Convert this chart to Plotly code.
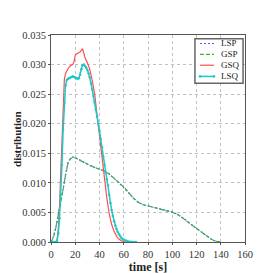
import plotly.graph_objects as go

# LSP / GSP (nearly identical)
t_sp = [0, 2, 4, 6, 8, 10, 12, 14, 16, 18, 20, 24, 28, 32, 36, 40, 44, 48, 52, 56, 60, 64, 68, 72, 76, 80, 84, 88, 92, 96, 100, 104, 108, 112, 116, 120, 124, 128, 132, 136, 140]
lsp = [0, 0.0009, 0.0025, 0.0045, 0.0066, 0.0090, 0.0114, 0.0134, 0.0141, 0.0144, 0.0143, 0.0138, 0.0133, 0.0129, 0.0126, 0.0123, 0.0120, 0.0115, 0.0108, 0.0100, 0.0092, 0.0083, 0.0074, 0.0067, 0.0063, 0.0061, 0.0059, 0.0057, 0.0055, 0.0053, 0.0051, 0.0047, 0.0042, 0.0036, 0.0029, 0.0023, 0.0017, 0.0010, 0.0005, 0.0001, 0]
gsp = [0, 0.0008, 0.0024, 0.0044, 0.0065, 0.0089, 0.0113, 0.0133, 0.0141, 0.0143, 0.0142, 0.0138, 0.0133, 0.0129, 0.0126, 0.0123, 0.0120, 0.0115, 0.0108, 0.0100, 0.0093, 0.0084, 0.0074, 0.0067, 0.0063, 0.0061, 0.0059, 0.0057, 0.0055, 0.0053, 0.0050, 0.0047, 0.0042, 0.0035, 0.0029, 0.0023, 0.0017, 0.0011, 0.0005, 0.0001, 0]

# GSQ
t_gsq = [0, 4, 5, 6, 7, 8, 9, 10, 11, 12, 14, 16, 18, 19, 20, 22, 24, 26, 27, 28, 30, 32, 34, 36, 38, 40, 41, 42, 44, 46, 48, 50, 52, 54, 56, 58, 60, 62, 70]
gsq = [0, 0, 0.0003, 0.002, 0.006, 0.012, 0.019, 0.025, 0.0275, 0.0285, 0.0293, 0.0298, 0.0300, 0.0305, 0.0316, 0.0319, 0.0321, 0.0327, 0.0320, 0.0312, 0.0303, 0.0292, 0.0273, 0.0250, 0.0215, 0.0180, 0.0160, 0.0138, 0.0107, 0.0075, 0.0048, 0.0030, 0.0018, 0.0010, 0.0005, 0.0002, 0.00007, 0, 0]

# LSQ
t_lsq = list(range(0, 61)) + [62, 64, 66, 68, 70]
lsq = [0, 0, 0, 0, 0, 0.0002, 0.0015, 0.004, 0.008, 0.013, 0.019, 0.0235, 0.0265, 0.0274, 0.0276,
       0.0277, 0.0278, 0.0279, 0.0280, 0.0279, 0.0278, 0.0277, 0.0276, 0.0277, 0.0283, 0.0292, 0.0299,
       0.0300, 0.0298, 0.0295, 0.0291, 0.0285, 0.0278, 0.0268, 0.0258, 0.0247, 0.0236, 0.0224, 0.0212,
       0.0200, 0.0188, 0.0174, 0.0160, 0.0145, 0.0130, 0.0117, 0.0106, 0.0096, 0.0080, 0.0066, 0.0054,
       0.0044, 0.0035, 0.0028, 0.0022, 0.0017, 0.0013, 0.0010, 0.0007, 0.0005, 0.0004,
       0.0002, 0.0001, 0.00005, 0, 0]

xticks = [0, 20, 40, 60, 80, 100, 120, 140, 160]
yticks = [0, 0.005, 0.010, 0.015, 0.020, 0.025, 0.030, 0.035]

names = ["LSP", "GSP", "GSQ", "LSQ"]
colors = ["#5a5aff", "#3cb43c", "#ff4d4d", "#1fc8c8"]
dashes = ["2px,2px", "4px,2px", "solid", "solid"]
widths = [1.2, 1.2, 1.2, 1.5]

fig = go.Figure()
series = [(t_sp, lsp), (t_sp, gsp), (t_gsq, gsq), (t_lsq, lsq)]
for (tx, ty), n, c, d, w in zip(series, names, colors, dashes, widths):
    mode = "lines+markers" if n == "LSQ" else "lines"
    fig.add_trace(go.Scatter(x=tx, y=ty, name=n, mode=mode,
                             line=dict(color=c, width=w, dash=d),
                             marker=dict(size=2.5, color=c), showlegend=False))

serif = "Liberation Serif"
axis_common = dict(showline=True, linecolor="#555", linewidth=1, mirror=True,
                   ticks="outside", ticklen=2, tickcolor="#555",
                   showgrid=True, gridcolor="#c0c0c0", griddash="dot", gridwidth=1,
                   zeroline=False, tickfont=dict(family=serif, size=10.5, color="#333"))

# custom compact legend (paper coordinates)
shapes = [dict(type="rect", xref="paper", yref="paper", x0=0.742, x1=0.990, y0=0.767, y1=0.982,
               line=dict(color="#666", width=1.5), fillcolor="white", layer="above")]
annotations = []
rows = [0.959, 0.906, 0.854, 0.800]
for n, c, d, w, ry in zip(names, colors, dashes, widths, rows):
    shapes.append(dict(type="line", xref="paper", yref="paper", x0=0.768, x1=0.840, y0=ry, y1=ry,
                       line=dict(color=c, width=w, dash=d), layer="above"))
    if n == "LSQ":
        for mx in (0.768, 0.840):
            shapes.append(dict(type="circle", xref="paper", yref="paper",
                               x0=mx - 0.006, x1=mx + 0.006, y0=ry - 0.005, y1=ry + 0.005,
                               line=dict(color=c, width=0.5), fillcolor=c, layer="above"))
    annotations.append(dict(text=n, xref="paper", yref="paper", x=0.868, y=ry, xanchor="left",
                            yanchor="middle", showarrow=False,
                            font=dict(family=serif, size=9, color="#222")))

# y-axis title placed as rotated annotation
annotations.append(dict(text="<b>distribution</b>", xref="paper", yref="paper", x=-0.178, y=0.5,
                        xanchor="center", yanchor="middle", textangle=-90, showarrow=False,
                        font=dict(family=serif, size=11, color="#222")))

fig.update_layout(
    width=273, height=273,
    margin=dict(l=43, r=36, t=27, b=27),
    plot_bgcolor="white", paper_bgcolor="white",
    xaxis=dict(range=[0, 160], tickvals=xticks, ticktext=[str(v) for v in xticks],
               title=dict(text="<b>time [s]</b>", font=dict(family=serif, size=12, color="#222"), standoff=1),
               **axis_common),
    yaxis=dict(range=[0, 0.035], tickvals=yticks, ticktext=[f"{v:.3f}" for v in yticks],
               **axis_common),
    shapes=shapes, annotations=annotations,
    showlegend=False,
)

fig.write_html("out.html")
